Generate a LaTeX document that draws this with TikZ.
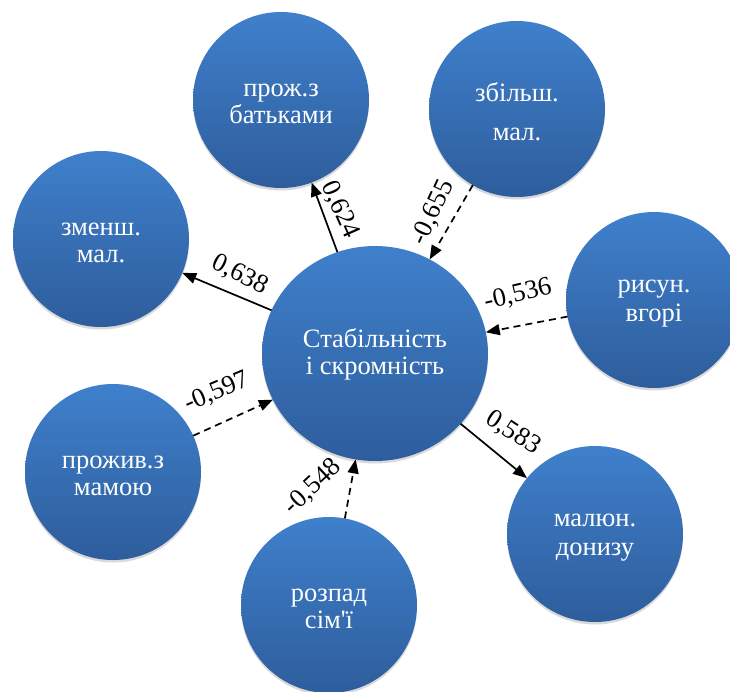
\documentclass[tikz,border=0pt]{standalone}
\usepackage{fontspec}
\setmainfont{Liberation Serif}[Ligatures=TeXOff]
\usetikzlibrary{shapes.geometric,arrows.meta,shadows}
\definecolor{bluetop}{RGB}{63,128,204}
\definecolor{bluebot}{RGB}{46,93,156}
\tikzset{
  ball/.style={circle, minimum size=176pt, inner sep=0pt, outer sep=0pt,
    top color=bluetop, bottom color=bluebot, draw=none,
    drop shadow={shadow xshift=0pt, shadow yshift=-2.5pt, opacity=0.25, fill=black!60}},
  txt/.style={text=white, align=center, inner sep=0pt, yshift=-4pt,
    font=\fontsize{26.5}{27}\selectfont},
  hub/.style={ball, ellipse, minimum width=226pt, minimum height=215pt},
  posline/.style={line width=1.7pt, -{Triangle[length=14pt,width=11pt]}},
  negline/.style={posline, dash pattern=on 7pt off 5pt},
  lab/.style={font=\fontsize{26.5}{27}\selectfont, inner sep=0pt}
}
\begin{document}
\begin{tikzpicture}[x=1pt,y=-1pt]
\useasboundingbox (0,0) rectangle (730,691);
\clip (0,0) rectangle (730,691);
\node[hub, label={[txt, yshift=3pt]center:{Стабільність\\і скромність}}] (c) at (375,353.5) {};
\node[ball, label={[txt]center:{прож.з\\батьками}}] (pb) at (281,100) {};
\node[ball, label={[txt, yshift=1pt]center:{збільш.\\[12pt]мал.}}] (zb) at (517,109) {};
\node[ball, label={[txt]center:{зменш.\\мал.}}] (zm) at (101,239) {};
\node[ball, label={[txt]center:{рисун.\\[2pt]вгорі}}] (rv) at (654,300) {};
\node[ball, label={[txt]center:{прожив.з\\мамою}}] (pm) at (113,472) {};
\node[ball, label={[txt]center:{розпад\\сім'ї}}] (rs) at (329,605) {};
\node[ball, label={[txt]center:{малюн.\\[2pt]донизу}}] (md) at (595,534) {};

\draw[posline] (c) -- (pb);
\draw[negline] (zb) -- (c);
\draw[posline] (c) -- (zm);
\draw[negline] (rv) -- (c);
\draw[negline] (pm) -- (c);
\draw[negline] (rs) -- (c);
\draw[posline] (c) -- (md);

\node[lab, rotate=-66] (l1) at (340,210) {0,624};
\node[lab, rotate=65] (l2) at (433,213) {-0,655};
\node[lab, rotate=-27] (l3) at (240,275) {0,638};
\node[lab, rotate=13] (l4) at (518,295) {-0,536};
\node[lab, rotate=23] (l5) at (217,392) {-0,597};
\node[lab, rotate=43] (l6) at (313,487) {-0,548};
\node[lab, rotate=-33] (l7) at (513,433) {0,583};
\end{tikzpicture}
\end{document}
